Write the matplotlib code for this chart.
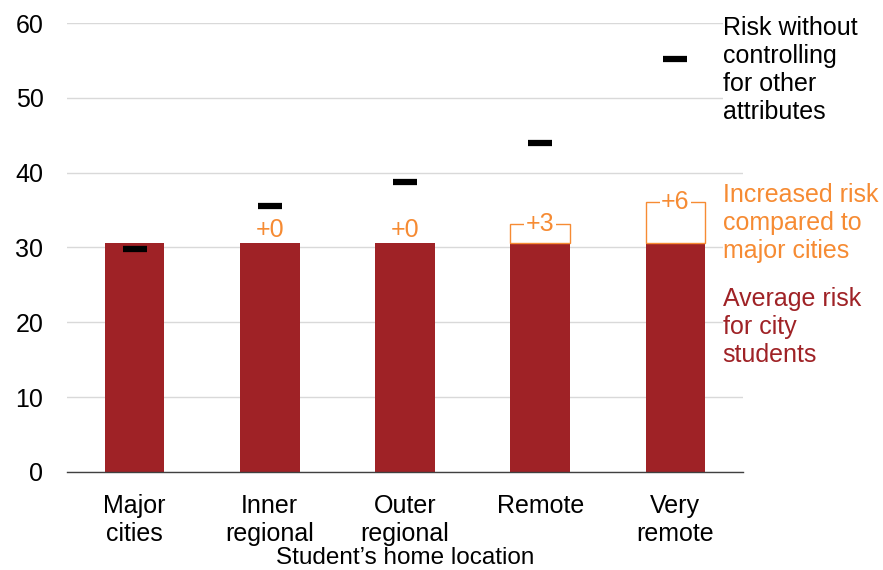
import matplotlib
matplotlib.use("Agg")
import matplotlib.pyplot as plt

categories = ["Major\ncities", "Inner\nregional", "Outer\nregional", "Remote", "Very\nremote"]
base_risk = [30.6, 30.6, 30.6, 30.6, 30.6]
increase = [0.0, 0.0, 0.0, 2.6, 5.5]
increase_labels = ["", "+0", "+0", "+3", "+6"]
raw_risk = [29.8, 35.6, 38.7, 44.0, 55.2]
yticks = [0, 10, 20, 30, 40, 50, 60]

BAR = "#9F2226"
ORANGE = "#F68B33"
GRID = "#D9D9D9"

plt.rcParams['font.family'] = ['Liberation Sans', 'DejaVu Sans']
FS = 18

fig = plt.figure(figsize=(8.83, 5.70), dpi=100)
ax = fig.add_axes([0.0759, 0.172, 0.7655, 0.7876])

x = list(range(len(categories)))
w = 0.44
ax.bar(x, base_risk, width=w, color=BAR, zorder=2)

for i in x:
    if increase[i] > 0:
        ax.bar(i, increase[i], bottom=base_risk[i], width=w, fill=False,
               edgecolor=ORANGE, linewidth=1.0, zorder=2)
        ax.text(i, base_risk[i] + increase[i], increase_labels[i], ha='center', va='center',
                color=ORANGE, fontsize=FS, zorder=4,
                bbox=dict(facecolor='white', edgecolor='none', pad=1.0))
    elif increase_labels[i]:
        ax.annotate(increase_labels[i], (i, base_risk[i]), xytext=(0, 1),
                    textcoords='offset points', ha='center', va='bottom',
                    color=ORANGE, fontsize=FS, zorder=4)

ax.plot(x, raw_risk, linestyle='none', marker='_', markersize=17.5,
        markeredgewidth=4.5, color='black', zorder=5)

ax.set_xlim(-0.5, 4.5)
ax.set_ylim(0, 60)
ax.set_yticks(yticks)
ax.set_xticks(x)
ax.set_xticklabels(categories, fontsize=FS, linespacing=1.2)
ax.tick_params(axis='y', length=0, pad=17, labelsize=FS)
ax.tick_params(axis='x', length=0, pad=16)
ax.grid(axis='y', color=GRID, linewidth=1.0, zorder=0)
ax.set_axisbelow(True)
for s in ['top', 'right', 'left']:
    ax.spines[s].set_visible(False)
ax.spines['bottom'].set_color('#404040')
ax.spines['bottom'].set_linewidth(1.0)
ax.set_xlabel("Student\u2019s home location", fontsize=17.5, labelpad=0.5)

tx = 0.970
ax.text(tx, 53.7, "Risk without\ncontrolling\nfor other\nattributes", transform=ax.get_yaxis_transform(),
        ha='left', va='center', fontsize=FS, color='black', linespacing=1.2, clip_on=False, zorder=6,
        bbox=dict(facecolor='white', edgecolor='none', pad=0))
ax.text(tx, 33.3, "Increased risk\ncompared to\nmajor cities", transform=ax.get_yaxis_transform(),
        ha='left', va='center', fontsize=FS, color=ORANGE, linespacing=1.2, clip_on=False, zorder=6,
        bbox=dict(facecolor='white', edgecolor='none', pad=0))
ax.text(tx, 19.4, "Average risk\nfor city\nstudents", transform=ax.get_yaxis_transform(),
        ha='left', va='center', fontsize=FS, color=BAR, linespacing=1.2, clip_on=False, zorder=6,
        bbox=dict(facecolor='white', edgecolor='none', pad=0))

fig.savefig("out.png", dpi=100)
